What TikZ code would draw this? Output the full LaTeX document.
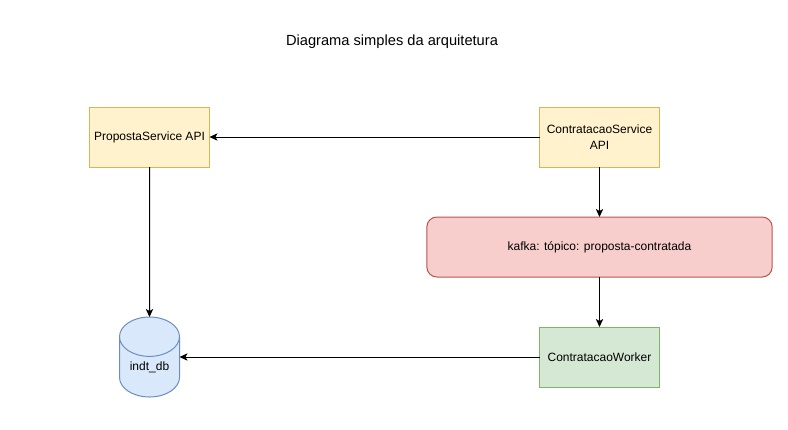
\documentclass[tikz,border=0pt]{standalone}
\usepackage{fontspec}
\setmainfont{Liberation Sans}
\usetikzlibrary{positioning,arrows.meta,shapes.geometric}
\tikzset{
  conn/.style={-{Stealth[length=6pt,width=5.5pt,inset=1.5pt]},line width=0.75pt}
}
\definecolor{yelfill}{HTML}{FFF2CC}
\definecolor{yelline}{HTML}{D6B656}
\definecolor{redfill}{HTML}{F8CECC}
\definecolor{redline}{HTML}{B85450}
\definecolor{grnfill}{HTML}{D5E8D4}
\definecolor{grnline}{HTML}{82B366}
\definecolor{blufill}{HTML}{DAE8FC}
\definecolor{bluline}{HTML}{6C8EBF}
\begin{document}
\begin{tikzpicture}[x=0.75pt,y=0.75pt,
    box/.style={rectangle,draw=#1line,fill=#1fill,line width=0.75pt,minimum width=90pt,minimum height=45pt,align=center,outer sep=0pt,inner sep=0pt,font=\fontsize{9}{12.5}\selectfont}]
    \useasboundingbox (0,0) rectangle (788,-429);
    \node[font=\fontsize{11}{12}\selectfont] (titulo) at (392,-42) {Diagrama simples da arquitetura};
    \node[box=yel] (proposta) at (149.5,-137) {PropostaService API};
    \node[box=yel] (contratacao) at (599.5,-137) {ContratacaoService\\API};
    \node[box=red,rounded corners=7.5pt,minimum width=259pt,below=37.5pt of contratacao] (kafka) {kafka: tópico: proposta-contratada};
    \node[box=grn,below=37.5pt of kafka] (worker) {ContratacaoWorker};
    \node[cylinder,shape border rotate=90,aspect=1,anchor=shape center,draw=bluline,fill=blufill,cylinder uses custom fill,cylinder body fill=blufill,cylinder end fill=blufill,line width=0.75pt,minimum width=45pt,minimum height=60pt,outer sep=0pt,inner sep=0pt,font=\fontsize{9}{12.5}\selectfont] (banco) at (149.5,-357) {\raisebox{-2.2pt}{indt\_db}};
    \draw[conn] (contratacao) -- (proposta);
    \draw[conn] (proposta) -- (banco.north);
    \draw[conn] (contratacao) -- (kafka);
    \draw[conn] (kafka) -- (worker);
    \draw[conn] (worker.west) -- (banco.east |- worker.west);
\end{tikzpicture}
\end{document}
